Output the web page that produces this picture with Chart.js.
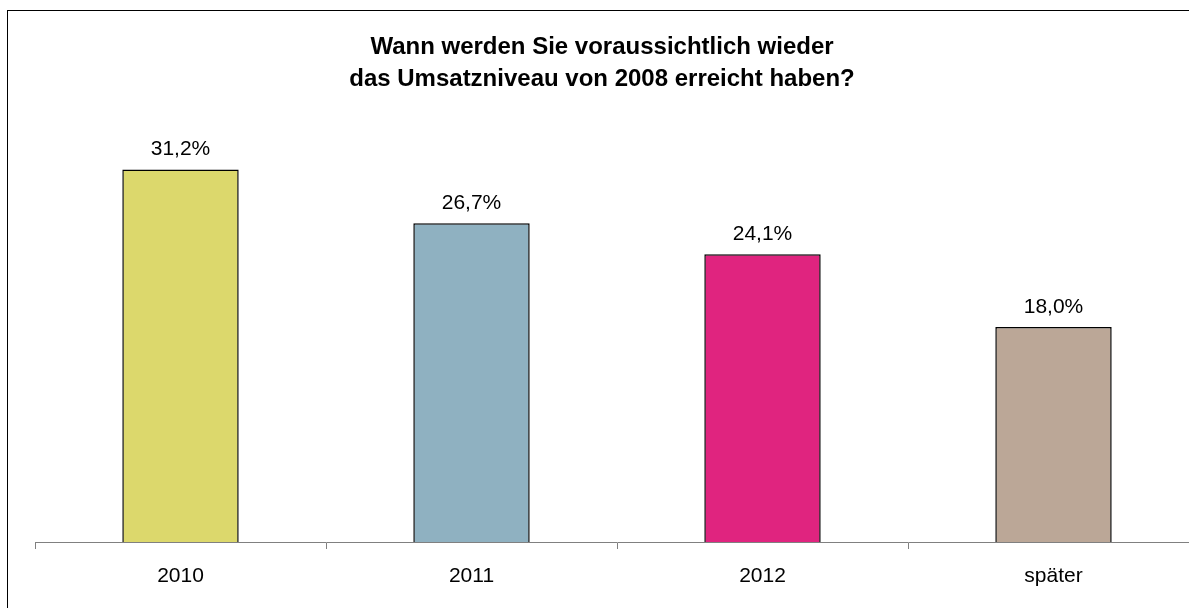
<!DOCTYPE html>
<html>
<head>
<meta charset="utf-8">
<script src="https://cdn.jsdelivr.net/npm/chart.js@4"></script>
<style>
  html, body { margin: 0; padding: 0; background: #fff; overflow: hidden; }
  #wrap { width: 1189px; height: 608px; overflow: hidden; }
</style>
</head>
<body>
<div id="wrap"><canvas id="chart" width="1220" height="608"></canvas></div>
<script>
var categories = ['2010', '2011', '2012', 'später'];
var values = [31.2, 26.7, 24.1, 18.0];
var barColors = ['#dcd86c', '#8fb1c1', '#e0247f', '#bba797'];
var titleLines = ['Wann werden Sie voraussichtlich wieder', 'das Umsatzniveau von 2008 erreicht haben?'];

var fontFamily = '"Liberation Sans", Arial, sans-serif';

// frame, title and value labels
var decor = {
  id: 'decor',
  afterDraw: function(chart) {
    var ctx = chart.ctx;
    ctx.save();
    ctx.strokeStyle = '#000';
    ctx.lineWidth = 1;
    ctx.strokeRect(7.5, 10.5, 1300, 700);

    ctx.fillStyle = '#000';
    ctx.textAlign = 'center';
    ctx.textBaseline = 'alphabetic';
    ctx.font = 'bold 24px ' + fontFamily;
    ctx.fillText(titleLines[0], 602, 54);
    ctx.fillText(titleLines[1], 602, 86);

    ctx.font = '21px ' + fontFamily;
    chart.getDatasetMeta(0).data.forEach(function(bar, i) {
      ctx.fillText(values[i].toFixed(1).replace('.', ',') + '%', bar.x, bar.y - 14);
    });
    ctx.restore();
  }
};

new Chart(document.getElementById('chart'), {
  type: 'bar',
  data: {
    labels: categories,
    datasets: [{
      data: values,
      backgroundColor: barColors,
      borderColor: '#000',
      borderWidth: 1.5,
      borderSkipped: 'bottom',
      barPercentage: 0.4,
      categoryPercentage: 1
    }]
  },
  options: {
    responsive: false,
    animation: false,
    layout: { padding: { left: 35, right: 21, top: 124, bottom: 0 } },
    plugins: { legend: { display: false }, tooltip: { enabled: false }, title: { display: false } },
    scales: {
      x: {
        offset: true,
        grid: { offset: true, drawOnChartArea: false, drawTicks: true, tickLength: 7, color: '#808080' },
        border: { color: '#808080', width: 1 },
        ticks: { color: '#000', padding: 15, font: { family: fontFamily, size: 21 }, maxRotation: 0 },
        afterFit: function(s) { s.height = 66; }
      },
      y: { display: false, min: 0, max: 35 }
    }
  },
  plugins: [decor]
});
</script>
</body>
</html>
